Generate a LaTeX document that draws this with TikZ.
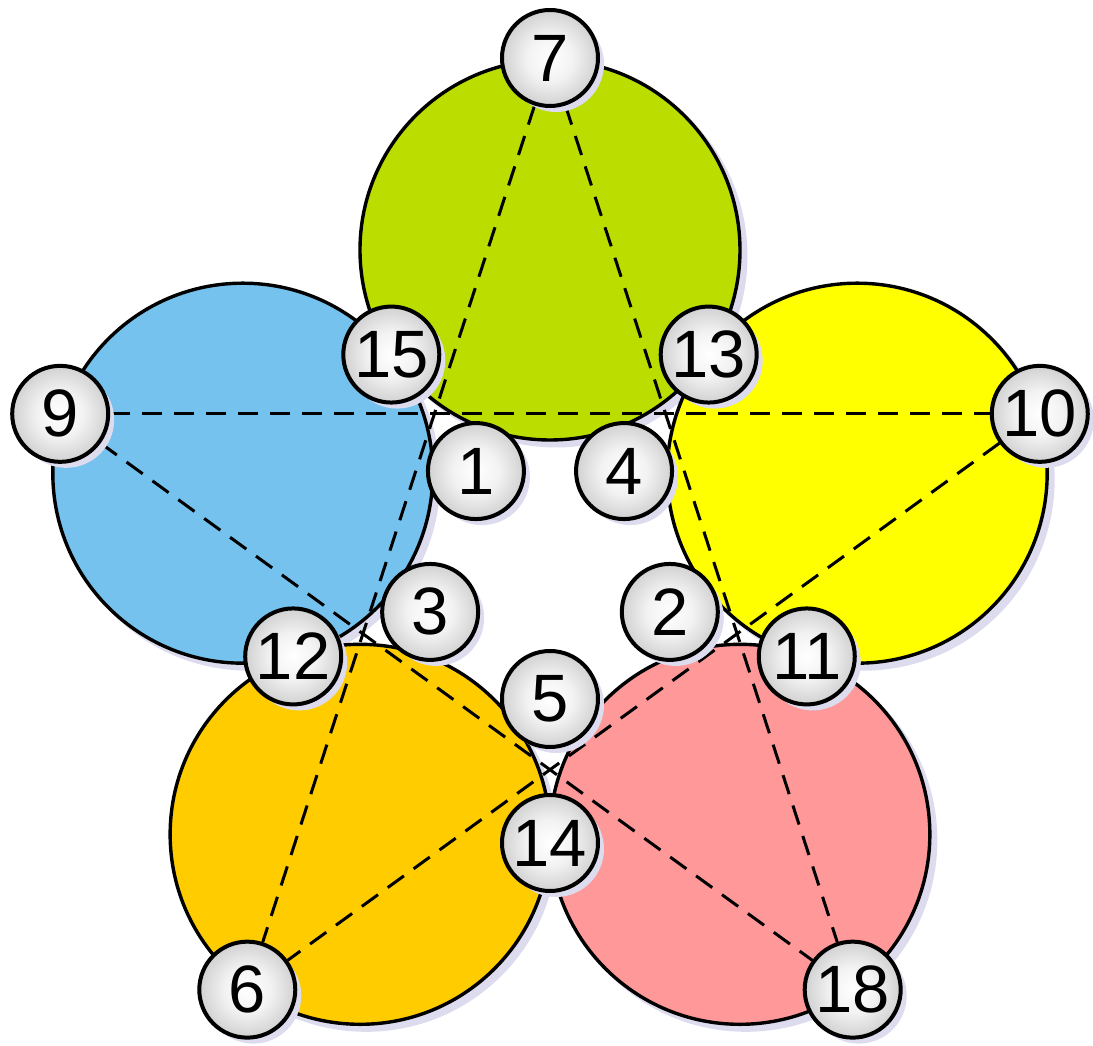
\documentclass[tikz,border=0pt]{standalone}
\usepackage{fontspec}
\setmainfont{Liberation Sans}
\usepackage{xcolor}
\usetikzlibrary{shadows}
\definecolor{leafgreen}{RGB}{187,221,0}
\definecolor{skyblue}{RGB}{116,194,237}
\definecolor{lemon}{RGB}{255,255,0}
\definecolor{amber}{RGB}{255,204,0}
\definecolor{salmon}{RGB}{255,153,153}
\definecolor{haze}{RGB}{221,219,238}
\pgfdeclareradialshading{pearl}{\pgfpoint{0bp}{0bp}}{%
  color(0bp)=(white); color(12bp)=(white!95!black);
  color(35bp)=(black!28); color(50bp)=(black!28)}
\pgfdeclarelayer{discs}
\pgfdeclarelayer{chords}
\pgfsetlayers{discs,chords,main}

\begin{document}
\begin{tikzpicture}[
    x=1pt, y=1pt,
    disc/.style={circle, draw, line width=3.4pt, minimum size=380pt, inner sep=0pt},
    ball/.style={circle, draw, line width=4pt, minimum size=96pt, inner sep=0pt,
                 shading=pearl,
                 drop shadow={shadow xshift=6pt, shadow yshift=-6pt, fill=haze, opacity=1},
                 font=\fontsize{67}{80}\selectfont},
    chord/.style={line width=3pt, dash pattern=on 20pt off 12pt}
    ]
\useasboundingbox (-550,-473) rectangle (543,573);

\begin{pgfonlayer}{discs}
\foreach \ang in {90,162,234,306,18}
  \fill[haze] ([shift={(6,-6)}]\ang:323) circle (191.5);
\node[disc, fill=leafgreen] (top)    at (90:323)  {};
\node[disc, fill=skyblue]   (left)   at (162:323) {};
\node[disc, fill=amber]     (lleft)  at (234:323) {};
\node[disc, fill=salmon]    (lright) at (306:323) {};
\node[disc, fill=lemon]     (right)  at (18:323)  {};
\end{pgfonlayer}

% outer, middle and inner balls
\foreach \lab/\ang in {7/90, 9/162, 6/234, 18/306, 10/18}
  \node[ball] (n\lab) at (\ang:515) {\lab};
\foreach \lab/\ang in {15/126, 12/198, 14/270, 11/342, 13/54}
  \node[ball] (n\lab) at (\ang:270) {\lab};
\foreach \lab/\ang in {1/126, 3/198, 5/270, 2/342, 4/54}
  \node[ball] (n\lab) at (\ang:126) {\lab};

\begin{pgfonlayer}{chords}
\draw[chord] (n7) -- (n6);
\draw[chord] (n7) -- (n18);
\draw[chord] (n9) -- (n10);
\draw[chord] (n9) -- (n18);
\draw[chord] (n10) -- (n6);
\end{pgfonlayer}
\end{tikzpicture}
\end{document}
